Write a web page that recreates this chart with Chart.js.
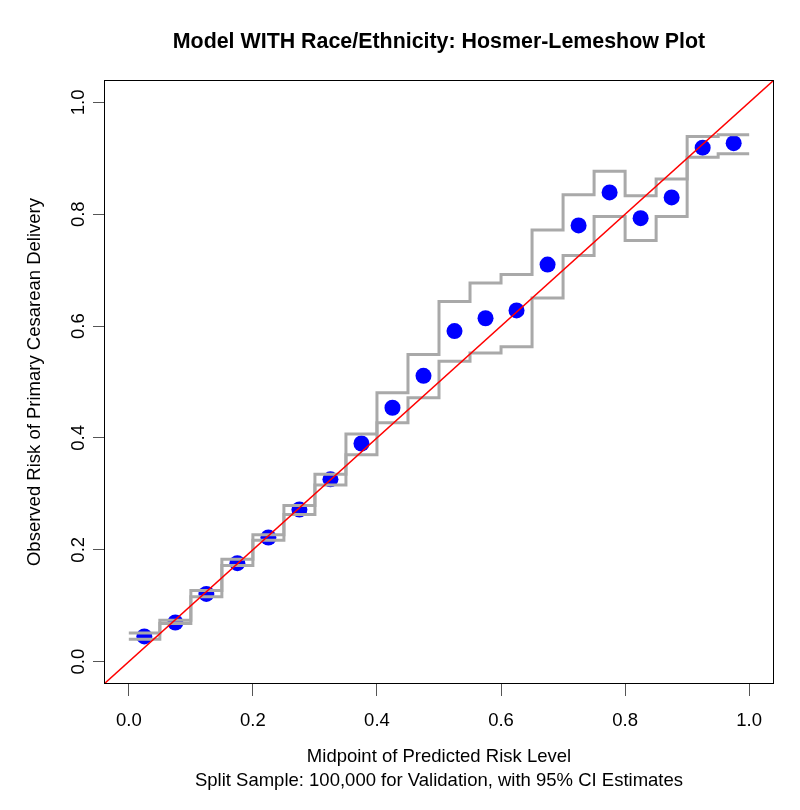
<!DOCTYPE html>
<html><head><meta charset="utf-8">
<script src="https://cdn.jsdelivr.net/npm/chart.js@4"></script>
<style>html,body{margin:0;padding:0;background:#fff}#wrap{width:800px;height:810px}</style>
</head><body><div id="wrap"><canvas id="c" width="800" height="810"></canvas></div>
<script>
// ---- data ----
const midpoints = [0.025,0.075,0.125,0.175,0.225,0.275,0.325,0.375,0.425,0.475,0.525,0.575,0.625,0.675,0.725,0.775,0.825,0.875,0.925,0.975];
const observed  = [0.045,0.070,0.121,0.176,0.222,0.272,0.326,0.390,0.454,0.511,0.591,0.614,0.628,0.710,0.780,0.839,0.793,0.830,0.919,0.927];
const upperCI   = [0.051,0.074,0.127,0.183,0.227,0.279,0.335,0.407,0.481,0.549,0.644,0.677,0.692,0.772,0.835,0.877,0.833,0.863,0.939,0.942];
const lowerCI   = [0.040,0.068,0.116,0.172,0.217,0.263,0.316,0.370,0.427,0.472,0.537,0.552,0.563,0.650,0.726,0.796,0.753,0.796,0.902,0.908];
const binWidth = 0.05;
const tickValues = [0.0,0.2,0.4,0.6,0.8,1.0];
const axisRange = [-0.04, 1.04];
const titleText = 'Model WITH Race/Ethnicity: Hosmer-Lemeshow Plot';
const xTitle = ['Midpoint of Predicted Risk Level','Split Sample: 100,000 for Validation, with 95% CI Estimates'];
const yTitle = 'Observed Risk of Primary Cesarean Delivery';

// ---- build ----
const FONT = "'Liberation Sans', Arial, sans-serif";
function stepData(vals){
  const d = midpoints.map((m,i)=>({x: m - binWidth/2, y: vals[i]}));
  d.push({x: midpoints[midpoints.length-1] + binWidth/2, y: vals[vals.length-1]});
  return d;
}
const pts = midpoints.map((m,i)=>({x:m, y:observed[i]}));

const boxPlugin = {
  id:'box',
  afterDraw(chart){
    const {ctx, chartArea:a} = chart;
    ctx.save();
    ctx.strokeStyle = '#000'; ctx.lineWidth = 1;
    ctx.strokeRect(a.left+0.5, a.top+0.5, a.right-a.left-1, a.bottom-a.top-1);
    ctx.fillStyle = '#000';
    ctx.font = 'bold 21.4px ' + FONT;
    ctx.textAlign = 'center'; ctx.textBaseline = 'middle';
    ctx.fillText(titleText, (a.left+a.right)/2, 42);
    ctx.restore();
  }
};

const tickCfg = (padding)=>({
  font:{family:FONT, size:18.5}, color:'#000', padding: padding,
  callback: v => Number(v).toFixed(1)
});

new Chart(document.getElementById('c'), {
  type:'scatter',
  data:{ datasets:[
    {label:'obs', data:pts, backgroundColor:'#0000FF', borderWidth:0, pointRadius:8, showLine:false, order:3},
    {label:'upper', data:stepData(upperCI), showLine:true, stepped:'before', borderColor:'#A9A9A9', borderWidth:3, pointRadius:0, fill:false, order:2},
    {label:'lower', data:stepData(lowerCI), showLine:true, stepped:'before', borderColor:'#A9A9A9', borderWidth:3, pointRadius:0, fill:false, order:2},
    {label:'ref', data:[{x:axisRange[0],y:axisRange[0]},{x:axisRange[1],y:axisRange[1]}], showLine:true, borderColor:'#FF0000', borderWidth:1.5, pointRadius:0, fill:false, order:1}
  ]},
  options:{
    responsive:false, animation:false, devicePixelRatio:1, events:[],
    layout:{padding:{top:80,right:26,left:0,bottom:0}},
    plugins:{legend:{display:false}, tooltip:{enabled:false}, title:{display:false}},
    scales:{
      x:{type:'linear', min:axisRange[0], max:axisRange[1],
        afterBuildTicks: s => { s.ticks = tickValues.map(v=>({value:v})); },
        afterFit: s => { s.height = 126; },
        grid:{drawOnChartArea:false, drawTicks:true, tickLength:12, tickColor:'#555', lineWidth:1},
        border:{display:false},
        ticks: Object.assign(tickCfg(14), {maxRotation:0, minRotation:0, autoSkip:false}),
        title:{display:true, text:xTitle, color:'#000', font:{family:FONT, size:18.5, lineHeight:1.29}, padding:{top:0,bottom:17}}
      },
      y:{type:'linear', min:axisRange[0], max:axisRange[1],
        afterBuildTicks: s => { s.ticks = tickValues.map(v=>({value:v})); },
        afterFit: s => { s.width = 104; },
        grid:{drawOnChartArea:false, drawTicks:true, tickLength:11, tickColor:'#555', lineWidth:1},
        border:{display:false},
        ticks: Object.assign(tickCfg(1), {minRotation:90, maxRotation:90, crossAlign:'center', autoSkip:false}),
        title:{display:true, text:yTitle, color:'#000', font:{family:FONT, size:18.5, lineHeight:1.2}, padding:{top:24,bottom:0}}
      }
    }
  },
  plugins:[boxPlugin]
});
</script></body></html>
